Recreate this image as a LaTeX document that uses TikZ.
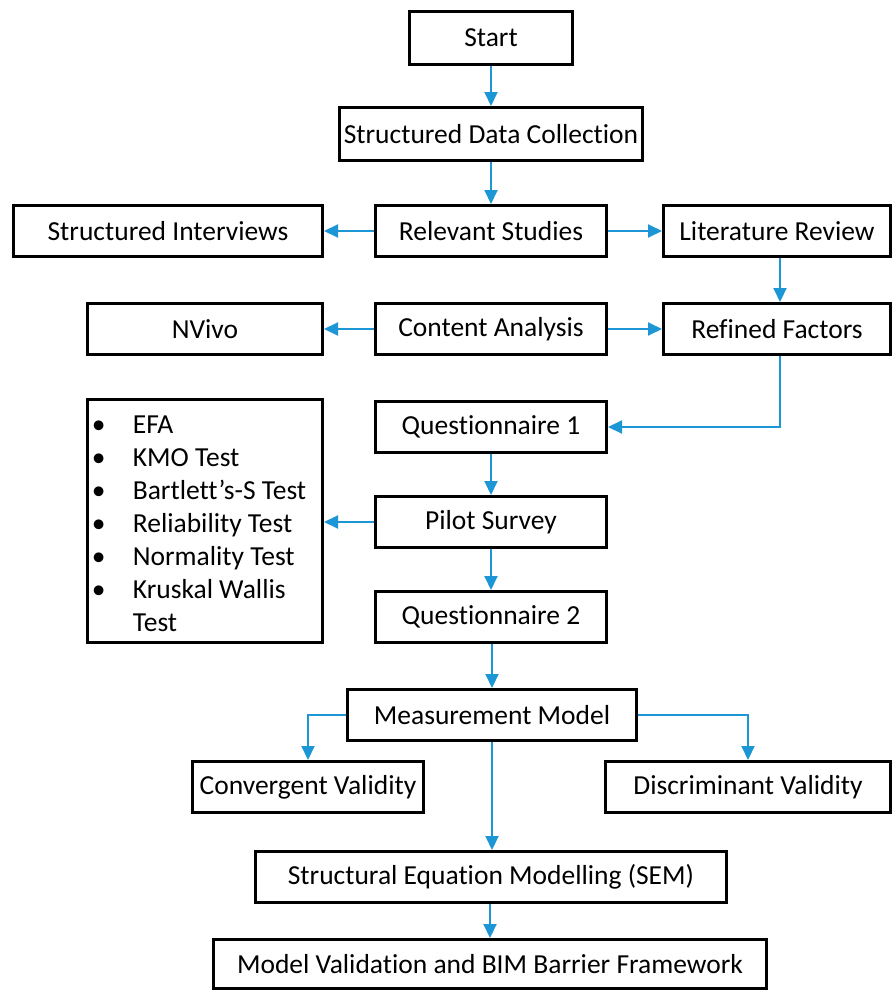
\documentclass[tikz,border=0pt]{standalone}
\usepackage{fontspec}
\setmainfont{Carlito}[Ligatures={NoCommon}]
\usetikzlibrary{arrows.meta}
\definecolor{flowblue}{RGB}{28,150,212}
\tikzset{
  box/.style={draw=black, line width=3pt, fill=white, inner sep=0pt,
    font=\fontsize{27.5}{33}\selectfont, align=center},
  flow/.style={draw=flowblue, line width=2pt,
    -{Triangle[length=14pt,width=13pt]}},
}
\newcommand{\bulletitem}[1]{\makebox[41pt][l]{•}#1}
\begin{document}
\begin{tikzpicture}[x=1pt,y=1pt]
\useasboundingbox (0,0) rectangle (892,-990);
% boxes (centre, width, height)
\node[box, minimum width=163, minimum height=53] (start) at (491,-38) {Start};
\node[box, minimum width=303, minimum height=53] (sdc) at (491,-134) {Structured Data Collection};
\node[box, minimum width=309, minimum height=51] (si) at (168,-231) {Structured Interviews};
\node[box, minimum width=231, minimum height=51] (rs) at (491,-231) {Relevant Studies};
\node[box, minimum width=227, minimum height=51] (lr) at (777,-231) {Literature Review};
\node[box, minimum width=235, minimum height=51] (nv) at (205,-329) {NVivo};
\node[box, minimum width=231, minimum height=51] (ca) at (491,-329) {Content Analysis};
\node[box, minimum width=227, minimum height=51] (rf) at (777,-329) {Refined Factors};
\node[box, minimum width=235, minimum height=243] (tests) at (205,-521)
  {\hspace*{-12pt}\raisebox{-5pt}[\height][\depth]{%
   \begin{tabular}{@{}l@{}}
   \bulletitem{EFA}\\
   \bulletitem{KMO Test}\\
   \bulletitem{Bartlett’s-S Test}\\
   \bulletitem{Reliability Test}\\
   \bulletitem{Normality Test}\\
   \bulletitem{Kruskal Wallis}\\
   \makebox[41pt][l]{}Test
   \end{tabular}}};
\node[box, minimum width=231, minimum height=51] (q1) at (491,-427) {Questionnaire 1};
\node[box, minimum width=231, minimum height=51] (ps) at (491,-522) {Pilot Survey};
\node[box, minimum width=231, minimum height=51] (q2) at (491,-617) {Questionnaire 2};
\node[box, minimum width=289, minimum height=51] (mm) at (492,-715) {Measurement Model};
\node[box, minimum width=231, minimum height=51] (cv) at (308,-787) {Convergent Validity};
\node[box, minimum width=285, minimum height=51] (dv) at (748,-787) {Discriminant Validity};
\node[box, minimum width=471, minimum height=51] (sem) at (491,-877) {Structural Equation Modelling (SEM)};
\node[box, minimum width=553, minimum height=49] (mv) at (490,-964) {Model Validation and BIM Barrier Framework};
% connectors
\draw[flow] (start) -- (sdc);
\draw[flow] (sdc) -- (rs);
\draw[flow] (rs) -- (si);
\draw[flow] (rs) -- (lr);
\draw[flow] (lr.south -| 780,0) -- (rf.north -| 780,0);
\draw[flow] (ca) -- (nv);
\draw[flow] (ca) -- (rf);
\draw[flow] (rf.south -| 780,0) |- (q1.east);
\draw[flow] (q1) -- (ps);
\draw[flow] (ps.west) -- (tests.east |- ps.west);
\draw[flow] (ps) -- (q2);
\draw[flow] (q2.south -| mm.north) -- (mm.north);
\draw[flow] (mm.west) -| (cv.north);
\draw[flow] (mm.east) -| (dv.north);
\draw[flow] (mm.south) -- (sem.north -| mm.south);
\draw[flow] (sem.south -| mv.north) -- (mv.north);
\end{tikzpicture}
\end{document}
